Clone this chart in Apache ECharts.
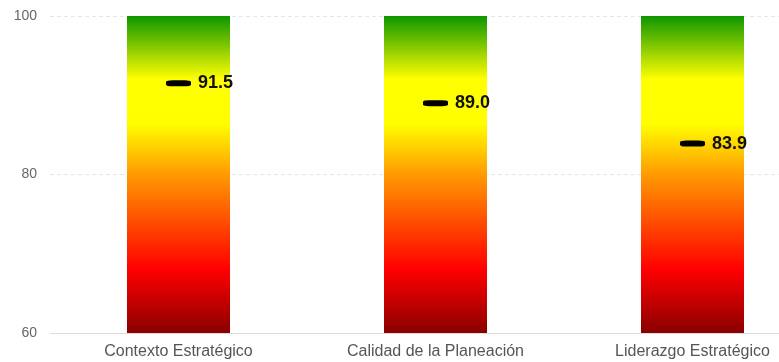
<!DOCTYPE html>
<html>
<head>
<meta charset="utf-8">
<script src="https://cdn.jsdelivr.net/npm/echarts@6/dist/echarts.min.js"></script>
<style>
  html, body { margin: 0; padding: 0; background: #fff; }
  #chart { width: 779px; height: 362px; }
</style>
</head>
<body>
<div id="chart"></div>
<script>
// Categories and scores
const categories = ['Contexto Estratégico', 'Calidad de la Planeación', 'Liderazgo Estratégico'];
const scores = [91.5, 89.0, 83.9];
// Full-scale background band (from axis minimum to maximum)
const bandTop = [100, 100, 100];
const yTicks = [60, 80, 100];

const bandGradient = new echarts.graphic.LinearGradient(0, 0, 0, 1, [
  { offset: 0.00, color: '#0e9600' },
  { offset: 0.20, color: '#ffff00' },
  { offset: 0.34, color: '#ffff00' },
  { offset: 0.50, color: '#ff9a00' },
  { offset: 0.80, color: '#ff0000' },
  { offset: 1.00, color: '#8a0000' }
]);

const chart = echarts.init(document.getElementById('chart'), null, { renderer: 'canvas' });
chart.setOption({
  animation: false,
  grid: { left: 50, width: 771, top: 16, bottom: 29, containLabel: false, outerBoundsMode: 'none' },
  xAxis: {
    type: 'category',
    data: categories,
    axisLine: { show: false },
    axisTick: { show: false },
    axisLabel: { color: '#555', fontSize: 16, fontFamily: 'Liberation Sans, Arial', margin: 11 }
  },
  yAxis: {
    type: 'value',
    min: yTicks[0],
    max: yTicks[yTicks.length - 1],
    interval: 20,
    axisLine: { show: false },
    axisTick: { show: false },
    axisLabel: { color: '#666', fontSize: 14, fontFamily: 'Liberation Sans, Arial', margin: 13 },
    splitLine: { lineStyle: { color: '#e6e6e6', type: [4, 3], width: 1 } }
  },
  series: [
    {
      type: 'bar',
      data: bandTop,
      barWidth: 103,
      itemStyle: { color: bandGradient },
      silent: true,
      z: 1
    },
    {
      // solid baseline at the axis minimum
      type: 'line',
      data: [],
      markLine: {
        silent: true,
        symbol: 'none',
        label: { show: false },
        lineStyle: { color: '#dcdcdc', type: 'solid', width: 1 },
        data: [{ yAxis: 60 }]
      }
    },
    {
      type: 'scatter',
      data: scores,
      symbol: 'roundRect',
      symbolSize: [25, 6],
      itemStyle: { color: '#000', opacity: 1 },
      label: {
        show: true,
        position: 'right',
        distance: 7,
        formatter: p => p.value.toFixed(1),
        color: '#111',
        fontSize: 18,
        fontWeight: 'bold',
        fontFamily: 'Liberation Sans, Arial'
      },
      z: 5
    }
  ]
});
</script>
</body>
</html>
